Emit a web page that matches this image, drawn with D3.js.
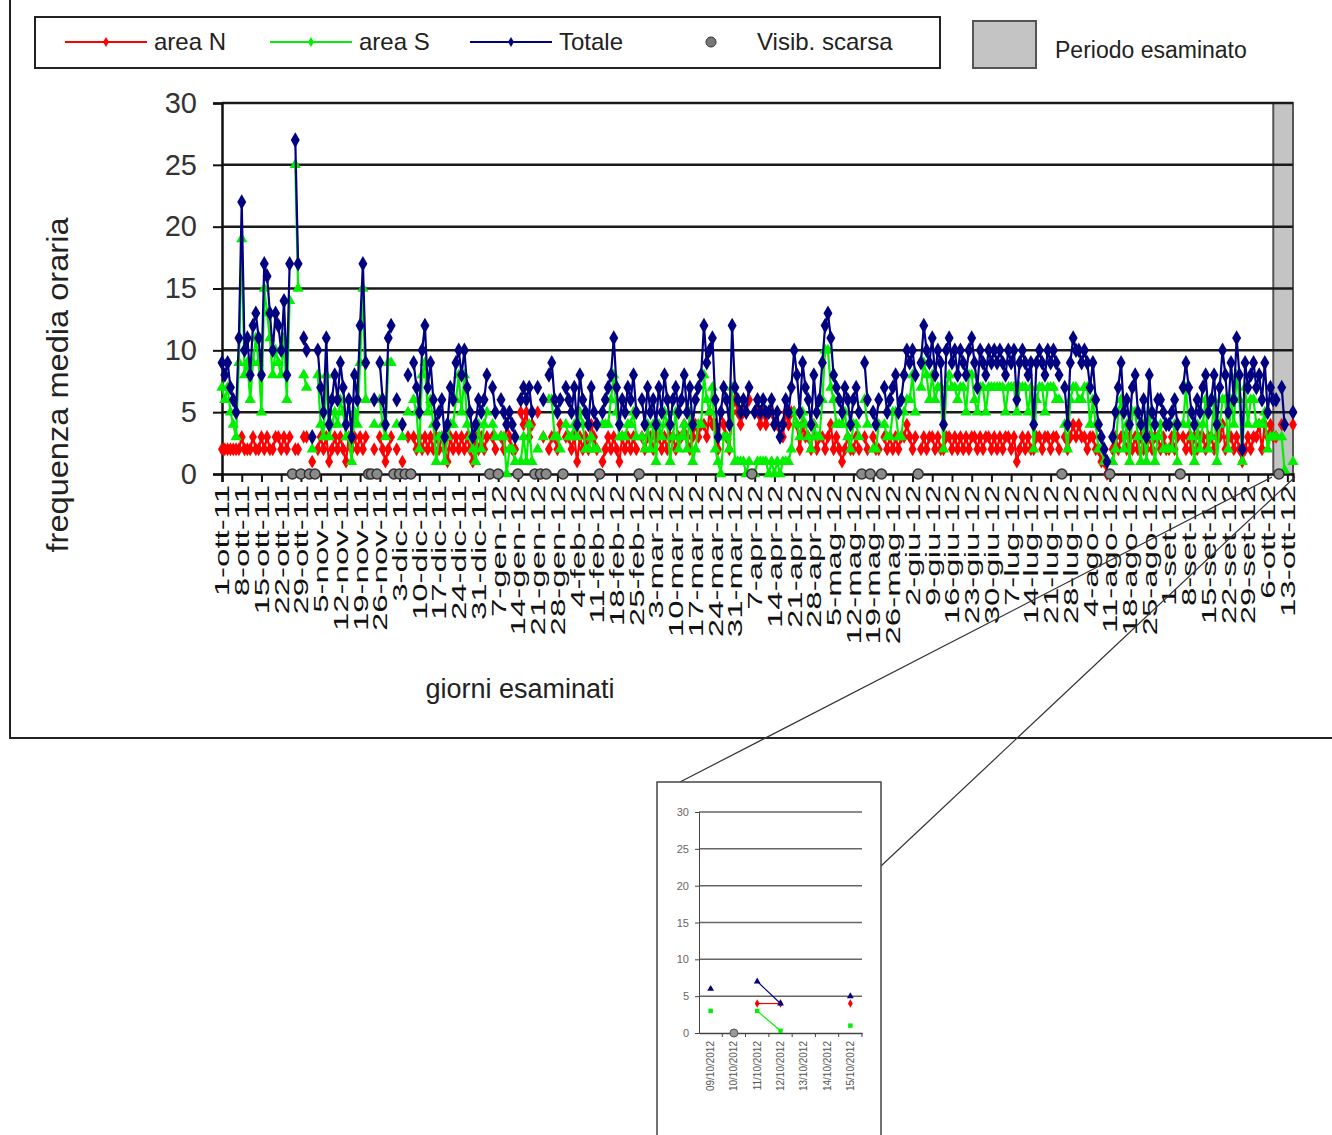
<!DOCTYPE html>
<html><head><meta charset="utf-8">
<script src="https://cdn.jsdelivr.net/npm/d3@7"></script>
<style>body{margin:0;background:#fff;} svg{display:block;font-family:"Liberation Sans",Arial,sans-serif;}</style>
</head><body><svg id="c" width="1332" height="1135"></svg>
<script>
// ---------- DATA ----------
const startDate = new Date(2011, 9, 1);   // 1-ott-11 = day 0
const totalDays = 380;                    // up to 15-ott-12
const monthsIt = ["gen","feb","mar","apr","mag","giu","lug","ago","set","ott","nov","dic"];
const yTicks = [0, 5, 10, 15, 20, 25, 30];
const seriesNames = ["area N", "area S", "Totale"];
const visibName = "Visib. scarsa";
const periodName = "Periodo esaminato";
const periodDays = [373, 380];

const days = [
  0,1,2,3,4,5,6,7,8,9,10,11,12,13,14,15,16,17,18,19,20,21,22,23,24,26,27,29,30,
  32,34,35,36,37,38,39,40,41,42,43,44,45,46,47,48,49,50,51,54,56,57,58,59,60,
  62,64,66,68,69,70,71,72,73,74,75,76,77,78,79,80,81,82,83,84,85,86,87,88,89,90,91,
  92,93,94,96,97,99,100,101,102,103,104,106,107,108,109,110,112,114,116,117,118,119,120,122,
  123,124,125,126,127,128,129,130,131,132,133,135,136,137,138,139,140,141,142,143,144,145,146,147,149,150,151,
  152,153,154,155,156,157,158,159,160,161,162,163,164,165,166,167,168,169,170,171,172,173,174,175,176,177,178,179,180,181,182,
  183,184,185,186,187,189,190,191,192,193,194,195,196,197,198,199,200,201,202,203,204,205,206,207,208,209,210,211,212,
  213,214,215,216,217,218,219,220,221,222,223,224,225,226,228,229,231,232,233,235,236,237,238,239,240,241,242,243,
  244,245,246,248,249,250,251,252,253,254,255,256,257,258,259,260,261,262,263,264,265,266,267,268,269,270,271,272,273,
  274,275,276,277,278,279,280,281,282,283,284,285,286,287,288,289,290,291,292,293,294,295,296,297,299,300,301,302,303,304,
  305,306,307,308,309,310,311,312,313,314,316,317,318,319,320,321,322,323,324,325,326,327,328,329,330,331,332,333,334,335,
  336,337,338,339,341,342,343,344,345,346,347,348,349,350,351,352,353,354,355,356,357,358,359,360,361,362,363,364,365,
  366,367,368,369,370,371,372,373,374,376,377,380
];
const areaN = [
  2,2,2,2,2,2,2,3,2,2,2,3,2,2,3,2,3,2,2,3,3,2,3,2,3,2,2,3,3,
  1,2,3,2,3,1,2,3,2,3,2,1,3,2,3,2,3,2,3,2,3,2,1,2,3,
  2,1,3,3,2,3,2,3,2,3,2,3,2,3,2,1,3,2,3,2,3,2,3,2,1,3,2,
  3,2,3,3,2,3,2,4,3,2,2,5,4,5,3,4,5,3,2,3,3,2,4,3,
  3,2,3,1,3,2,3,2,4,3,2,1,2,3,2,3,2,1,3,2,3,2,3,2,3,2,3,
  3,2,3,3,2,3,2,3,3,2,3,3,4,3,2,3,4,3,4,4,3,5,4,4,2,5,4,3,2,5,6,
  5,4,5,5,6,5,5,4,5,4,5,5,4,4,3,3,5,4,5,5,4,2,4,3,3,2,4,2,3,
  3,2,3,4,2,3,2,1,2,3,2,2,3,2,3,2,3,2,2,3,2,3,2,3,2,3,3,4,
  3,2,3,2,3,2,3,3,2,3,2,2,3,3,2,3,2,3,2,3,2,3,3,2,3,2,3,3,2,
  3,2,3,2,3,3,2,3,1,2,3,2,3,2,2,3,3,2,3,3,2,3,3,2,3,2,3,4,3,4,
  3,3,2,3,3,2,2,1,1,0,2,3,2,3,3,2,3,2,3,2,3,2,2,3,2,3,3,2,3,2,
  2,3,2,3,3,2,3,2,3,2,3,3,2,3,3,2,3,3,4,2,3,3,2,3,2,1,2,3,2,
  3,3,4,2,4,3,4,3,3,4,4,4
];
const areaS = [
  7,6,7,5,4,3,9,19,8,9,6,9,11,9,5,15,13,11,8,10,9,8,11,6,14,25,15,8,7,
  2,8,4,3,8,3,4,5,4,6,5,3,3,1,5,4,9,15,6,4,6,4,3,9,9,
  4,3,5,6,5,2,8,9,5,6,4,1,3,3,1,3,4,4,6,8,5,8,4,3,2,1,4,
  2,4,5,4,3,3,3,0,2,2,1,1,3,1,4,1,2,3,6,6,3,3,2,4,
  3,3,4,3,5,4,2,2,3,2,2,4,4,4,6,8,5,3,3,3,4,4,5,3,3,2,4,
  2,4,1,4,3,5,4,1,3,5,2,3,4,2,5,1,2,4,4,8,6,5,7,2,1,0,3,3,2,7,1,
  1,1,1,0,1,0,1,1,1,1,0,1,0,1,0,1,1,1,2,5,4,3,5,4,3,2,4,3,3,
  6,10,10,7,6,4,4,4,5,3,2,4,4,3,6,4,2,2,4,4,3,3,5,5,3,3,5,6,
  6,8,5,7,9,8,6,8,6,7,7,2,7,8,7,7,6,7,7,5,8,8,6,5,7,7,5,7,7,
  7,7,7,7,5,7,7,7,5,7,7,7,5,7,2,6,7,7,5,7,7,7,6,6,4,2,6,7,7,6,
  6,7,7,4,6,4,2,2,1,1,1,2,5,6,2,4,1,5,5,3,1,4,1,5,3,1,3,4,2,2,
  2,2,4,1,4,7,4,3,1,4,2,4,6,2,3,6,1,4,6,6,2,6,4,8,6,1,7,4,6,
  6,4,4,4,5,2,3,3,3,3,0.3,1
];
const totale = [
  9,8,9,7,6,5,11,22,10,11,8,12,13,11,8,17,16,13,10,13,12,10,14,8,17,27,17,11,10,
  3,10,7,5,11,4,6,8,6,9,7,4,6,3,8,6,12,17,9,6,9,6,4,11,12,
  6,4,8,9,7,5,10,12,7,9,6,4,5,6,3,4,7,6,9,10,8,10,7,5,3,4,6,
  5,6,8,7,5,6,5,4,5,4,3,6,7,6,7,5,7,6,8,9,6,5,6,7,
  6,5,7,4,8,6,5,4,7,5,4,5,6,7,8,11,7,4,6,5,7,6,8,5,6,4,7,
  5,6,4,7,5,8,6,4,6,7,5,6,8,5,7,4,6,7,8,12,9,10,11,6,3,5,7,6,4,12,7,
  6,5,6,5,7,5,6,5,6,5,5,6,4,5,3,4,6,5,7,10,8,5,9,7,6,4,8,5,6,
  9,12,13,11,8,7,6,5,7,6,4,6,7,5,9,6,5,4,6,7,5,6,7,8,5,6,8,10,
  9,10,8,9,12,10,9,11,8,10,9,4,10,11,9,10,8,10,9,8,10,11,9,7,10,9,8,10,9,
  10,9,10,9,8,10,9,10,6,9,10,9,8,9,4,9,10,9,8,10,9,10,9,8,7,4,9,11,10,10,
  9,10,9,7,9,6,4,3,2,1,3,5,7,9,5,6,4,7,8,5,4,6,3,8,5,4,6,6,5,4,
  4,5,6,4,7,9,7,5,4,6,5,7,8,5,6,8,4,7,10,8,5,9,6,11,8,2,9,7,8,
  9,7,8,6,9,5,7,6,6,7,4,5
];
const visibDays = [25,28,31,33,52,53,55,61,63,65,67,95,98,105,111,113,115,121,134,148,188,227,230,234,247,298,315,340,375];

// inset (zoom on the examined period)
const insetDates = ["09/10/2012","10/10/2012","11/10/2012","12/10/2012","13/10/2012","14/10/2012","15/10/2012"];
const insetN = [null,null,4,4,null,null,4];
const insetS = [3,null,3,0.3,null,null,1];
const insetT = [6,null,7,4,null,null,5];
const insetVisib = [false,true,false,false,false,false,false];

// ---------- STYLE ----------
const colors = ["#ff0000", "#00f000", "#000080"];
const svg = d3.select("#c");

const dayDate = d => d3.timeDay.offset(startDate, d);
const x = d3.scaleTime().domain([startDate, dayDate(totalDays)]).range([222, 1293]);
const y = d3.scaleLinear().domain([0, 30]).range([474, 103]);

// outer frame
svg.append("path").attr("d", "M10,0 V738 H1332").attr("fill","none").attr("stroke","#222").attr("stroke-width",2);

// period band
svg.append("rect")
  .attr("x", x(dayDate(periodDays[0]))).attr("y", y(30))
  .attr("width", x(dayDate(periodDays[1])) - x(dayDate(periodDays[0]))).attr("height", y(0) - y(30))
  .attr("fill", "#c4c4c4").attr("stroke", "#555").attr("stroke-width", 2);

// gridlines
svg.append("g").selectAll("line").data(yTicks.filter(t => t > 0)).join("line")
  .attr("x1", 222).attr("x2", 1293).attr("y1", d => y(d)).attr("y2", d => y(d))
  .attr("stroke", "#1a1a1a").attr("stroke-width", 2.5);

// y axis
const yAxis = svg.append("g").attr("transform", "translate(222,0)")
  .call(d3.axisLeft(y).tickValues(yTicks).tickSize(9).tickPadding(16));
yAxis.select(".domain").attr("stroke", "#111").attr("stroke-width", 2.5);
yAxis.selectAll(".tick line").attr("stroke", "#111").attr("stroke-width", 2);
yAxis.selectAll("text").attr("font-size", 29).attr("fill", "#333")
  .attr("font-family", "Liberation Sans, Arial, sans-serif");

// x axis
const tickDays = d3.range(0, totalDays + 1, 7);
const fmt = d => `${d.getDate()}-${monthsIt[d.getMonth()]}-${String(d.getFullYear()).slice(2)}`;
const xAxis = svg.append("g").attr("transform", `translate(0,${y(0)})`)
  .call(d3.axisBottom(x).tickValues(tickDays.map(dayDate)).tickSize(8).tickFormat(fmt));
xAxis.select(".domain").attr("stroke", "#111").attr("stroke-width", 2.5);
xAxis.selectAll(".tick line").attr("stroke", "#111").attr("stroke-width", 2);
xAxis.selectAll("text")
  .attr("font-size", 33).attr("fill", "#111")
  .attr("font-family", "Liberation Sans, Arial, sans-serif")
  .attr("text-anchor", "end").attr("x", -11).attr("y", 0).attr("dy", "0.35em")
  .attr("transform", "rotate(-90) scale(1,0.6)");

// series
const seriesVals = [areaN, areaS, totale];
const markerType = [d3.symbolDiamond, d3.symbolTriangle, d3.symbolDiamond];
const markerSize = [55, 55, 70];

function runs(vals, dayArr) {
  const out = []; let cur = [];
  dayArr.forEach((d, i) => {
    if (vals[i] == null) { if (cur.length) out.push(cur); cur = []; return; }
    if (cur.length && d - cur[cur.length - 1].d > 1) { out.push(cur); cur = []; }
    cur.push({ d, v: vals[i] });
  });
  if (cur.length) out.push(cur);
  return out;
}

const line = d3.line().x(p => x(dayDate(p.d))).y(p => y(p.v));
seriesVals.forEach((vals, si) => {
  const g = svg.append("g");
  g.selectAll("path.l").data(runs(vals, days)).join("path").attr("class", "l")
    .attr("d", line).attr("fill", "none").attr("stroke", colors[si]).attr("stroke-width", 2.2);
  g.selectAll("path.m").data(days.map((d, i) => ({ d, v: vals[i] }))).join("path").attr("class", "m")
    .attr("transform", p => `translate(${x(dayDate(p.d))},${y(p.v)})`)
    .attr("d", d3.symbol().type(markerType[si]).size(markerSize[si]))
    .attr("fill", colors[si]);
});

// visibility circles
svg.append("g").selectAll("circle").data(visibDays).join("circle")
  .attr("cx", d => x(dayDate(d))).attr("cy", y(0)).attr("r", 5)
  .attr("fill", "#8a8a8a").attr("stroke", "#333").attr("stroke-width", 1.5);

// axis titles
svg.append("text").attr("transform", "translate(68,385) rotate(-90)")
  .attr("text-anchor", "middle").attr("font-size", 29).attr("fill", "#222")
  .attr("textLength", 335).attr("lengthAdjust", "spacingAndGlyphs")
  .text("frequenza media oraria");
svg.append("text").attr("x", 520).attr("y", 698).attr("text-anchor", "middle")
  .attr("font-size", 27).attr("fill", "#222").text("giorni esaminati");

// legend
const lg = svg.append("g");
lg.append("rect").attr("x", 35).attr("y", 17).attr("width", 905).attr("height", 51)
  .attr("fill", "#fff").attr("stroke", "#222").attr("stroke-width", 2);
const legX = [65, 270, 470];
seriesNames.forEach((n, i) => {
  lg.append("line").attr("x1", legX[i]).attr("x2", legX[i] + 82).attr("y1", 42).attr("y2", 42)
    .attr("stroke", colors[i]).attr("stroke-width", 2);
  lg.append("path").attr("transform", `translate(${legX[i] + 41},42)`)
    .attr("d", d3.symbol().type(d3.symbolDiamond).size(30)).attr("fill", colors[i]);
  lg.append("text").attr("x", legX[i] + 89).attr("y", 50).attr("font-size", 24).attr("fill", "#222").text(n);
});
lg.append("circle").attr("cx", 711).attr("cy", 42).attr("r", 5).attr("fill", "#777").attr("stroke", "#333");
lg.append("text").attr("x", 757).attr("y", 50).attr("font-size", 24).attr("fill", "#222").text(visibName);
lg.append("rect").attr("x", 973).attr("y", 21).attr("width", 63).attr("height", 47)
  .attr("fill", "#c4c4c4").attr("stroke", "#555").attr("stroke-width", 2);
lg.append("text").attr("x", 1055).attr("y", 58).attr("font-size", 23).attr("fill", "#222").text(periodName);

// ---------- INSET ----------
svg.append("line").attr("x1", 680).attr("y1", 782).attr("x2", 1272).attr("y2", 477).attr("stroke", "#333").attr("stroke-width", 1.2);
svg.append("line").attr("x1", 881).attr("y1", 866).attr("x2", 1295).attr("y2", 477).attr("stroke", "#333").attr("stroke-width", 1.2);

const ig = svg.append("g");
ig.append("rect").attr("x", 657).attr("y", 782).attr("width", 224).attr("height", 370)
  .attr("fill", "#fff").attr("stroke", "#444").attr("stroke-width", 1.5);
const y2 = d3.scaleLinear().domain([0, 30]).range([1033, 812]);
const xb = d3.scaleBand().domain(insetDates).range([699, 862]);
ig.selectAll("line.g").data(yTicks.filter(t => t > 0)).join("line").attr("class", "g")
  .attr("x1", 699).attr("x2", 862).attr("y1", d => y2(d)).attr("y2", d => y2(d))
  .attr("stroke", "#666").attr("stroke-width", 1.5);
const iy = ig.append("g").attr("transform", "translate(699,0)")
  .call(d3.axisLeft(y2).tickValues(yTicks).tickSize(4).tickPadding(6));
iy.select(".domain").attr("stroke", "#444");
iy.selectAll("line").attr("stroke", "#444");
iy.selectAll("text").attr("font-size", 11).attr("fill", "#666");
const ix = ig.append("g").attr("transform", `translate(0,${y2(0)})`)
  .call(d3.axisBottom(xb).tickSize(0));
ix.select(".domain").attr("stroke", "#444").attr("stroke-width", 1.5);
ix.selectAll("text").attr("font-size", 10).attr("fill", "#555")
  .attr("text-anchor", "end").attr("x", -8).attr("y", 0).attr("dy", "0.35em")
  .attr("transform", "rotate(-90)");
ig.selectAll("line.t").data(insetDates).join("line").attr("class", "t")
  .attr("x1", d => xb(d) + xb.bandwidth()).attr("x2", d => xb(d) + xb.bandwidth())
  .attr("y1", y2(0)).attr("y2", y2(0) + 4).attr("stroke", "#444");

const insetVals = [insetN, insetS, insetT];
const insetLine = d3.line().defined(p => p.v != null)
  .x(p => xb(p.k) + xb.bandwidth() / 2).y(p => y2(p.v));
insetVals.forEach((vals, si) => {
  const pts = insetDates.map((k, i) => ({ k, v: vals[i] }));
  ig.append("path").attr("d", insetLine(pts)).attr("fill", "none").attr("stroke", colors[si]).attr("stroke-width", 1.2);
  ig.selectAll(null).data(pts.filter(p => p.v != null)).join("path")
    .attr("transform", p => `translate(${xb(p.k) + xb.bandwidth() / 2},${y2(p.v)})`)
    .attr("d", d3.symbol().type(si === 1 ? d3.symbolSquare : (si === 2 ? d3.symbolTriangle : d3.symbolDiamond)).size(20))
    .attr("fill", colors[si]);
});
ig.selectAll("circle").data(insetDates.filter((k, i) => insetVisib[i])).join("circle")
  .attr("cx", k => xb(k) + xb.bandwidth() / 2).attr("cy", y2(0)).attr("r", 4)
  .attr("fill", "#999").attr("stroke", "#555");
</script></body></html>
